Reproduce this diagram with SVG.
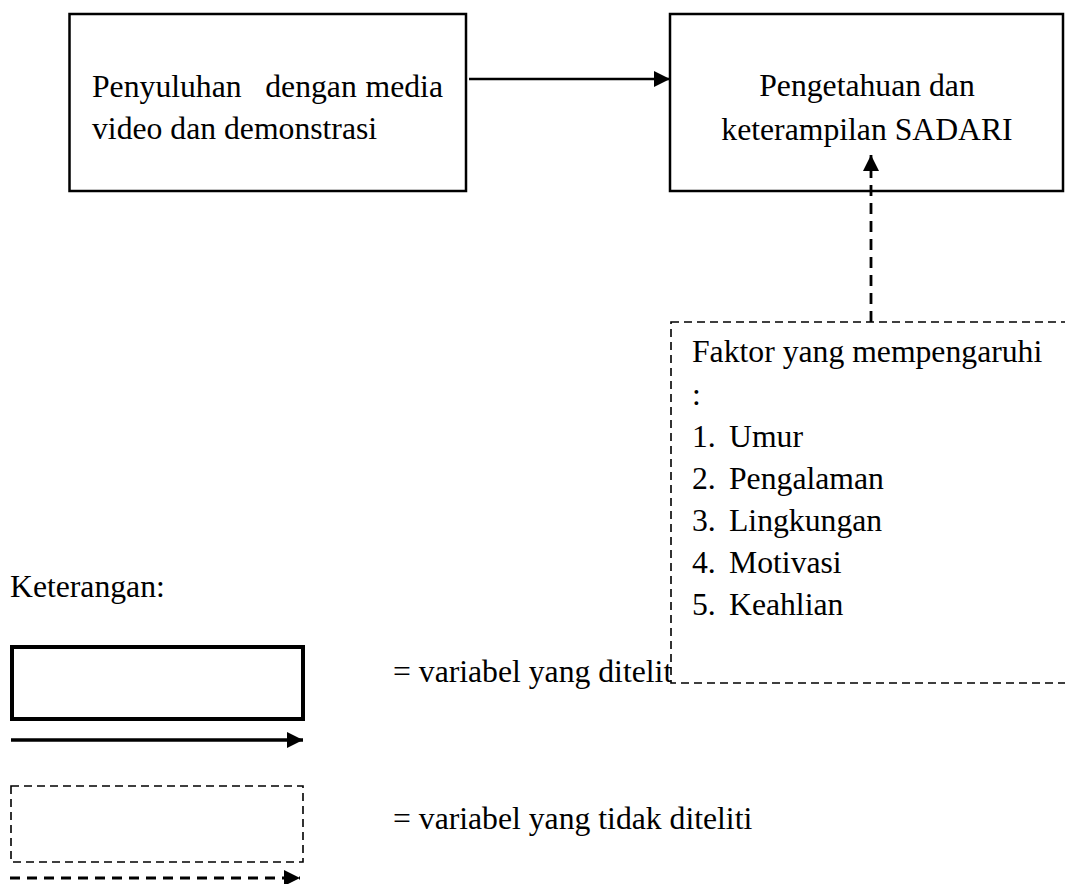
<svg xmlns="http://www.w3.org/2000/svg" width="1065" height="884" viewBox="0 0 1065 884">
<style>
text{font-family:"Liberation Serif","Times New Roman",serif;font-size:31.7px;fill:#000}
.solid{fill:#fff;stroke:#000;stroke-width:2.5}
.dash{fill:#fff;stroke:#000;stroke-width:1.6;stroke-dasharray:8 5}
.mid{text-anchor:middle}
</style>
<defs>
<marker id="ah" viewBox="0 0 10 10" refX="10" refY="5" markerWidth="10" markerHeight="10" markerUnits="userSpaceOnUse" orient="auto"><path d="M0,0L10,5L0,10z" fill="#000"/></marker>
<marker id="ahBig" viewBox="0 0 10 10" refX="10" refY="5" markerWidth="16" markerHeight="16" markerUnits="userSpaceOnUse" orient="auto"><path d="M0,0L10,5L0,10z" fill="#000"/></marker>
</defs>
<rect width="1065" height="884" fill="#fff"/>
<g id="legend-text">
<text x="10" y="597">Keterangan:</text>
<text x="393" y="682">= variabel yang diteliti</text>
<text x="393" y="829">= variabel yang tidak diteliti</text>
</g>
<g id="node-penyuluhan">
<rect class="solid" x="69.5" y="14" width="396.5" height="177"/>
<text x="92" y="97">Penyuluhan</text>
<text x="311" y="97" class="mid">dengan</text>
<text x="443" y="97" text-anchor="end">media</text>
<text x="92" y="139">video dan demonstrasi</text>
</g>
<g id="node-pengetahuan">
<rect class="solid" x="670" y="14" width="393" height="177"/>
<text x="867" y="96" class="mid">Pengetahuan dan</text>
<text x="867" y="140" class="mid">keterampilan SADARI</text>
</g>
<g id="node-faktor">
<rect class="dash" x="671" y="322" width="420" height="361"/>
<text x="692" y="362">Faktor yang mempengaruhi</text>
<text x="692" y="405">:</text>
<text x="692" y="447">1.</text><text x="729" y="447">Umur</text>
<text x="692" y="489">2.</text><text x="729" y="489">Pengalaman</text>
<text x="692" y="531">3.</text><text x="729" y="531">Lingkungan</text>
<text x="692" y="573">4.</text><text x="729" y="573">Motivasi</text>
<text x="692" y="615">5.</text><text x="729" y="615">Keahlian</text>
</g>
<g id="connectors">
<line x1="469" y1="79" x2="670" y2="79" stroke="#000" stroke-width="2.5" marker-end="url(#ahBig)"/>
<line x1="871" y1="322" x2="871" y2="155" stroke="#000" stroke-width="2.8" stroke-dasharray="11 7" marker-end="url(#ahBig)"/>
</g>
<g id="legend">
<rect x="12" y="647" width="291" height="72" fill="none" stroke="#000" stroke-width="4"/>
<line x1="11" y1="740" x2="303" y2="740" stroke="#000" stroke-width="3.5" marker-end="url(#ahBig)"/>
<rect x="11" y="786" width="292" height="76" fill="none" stroke="#000" stroke-width="1.6" stroke-dasharray="8 5"/>
<line x1="10" y1="878" x2="300" y2="878" stroke="#000" stroke-width="2.8" stroke-dasharray="10 7" marker-end="url(#ahBig)"/>
</g>
</svg>
